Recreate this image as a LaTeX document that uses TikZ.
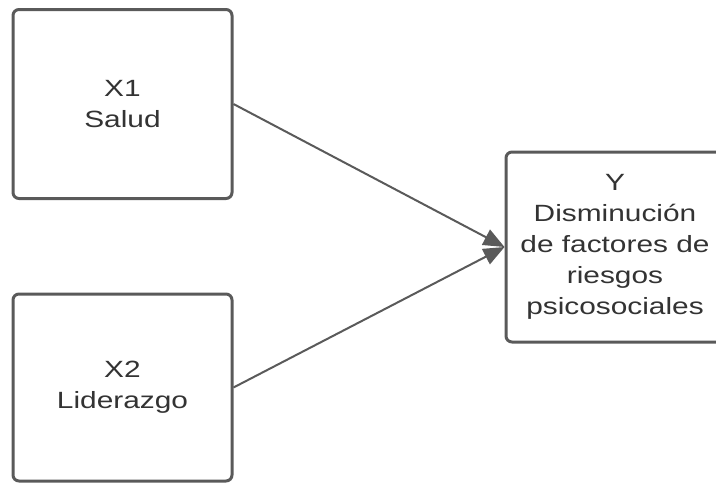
\documentclass[tikz,border=0pt]{standalone}
\usepackage{fontspec}
\newfontfamily\diagfont[FakeStretch=1.27]{Liberation Sans}
\usetikzlibrary{arrows.meta}
\definecolor{edge}{HTML}{5A5A5A}
\definecolor{txt}{HTML}{333333}
\tikzset{
  varbox/.style={draw=edge, line width=3pt, rounded corners=6pt, fill=white,
    minimum width=219pt, align=center, text=txt,
    font=\diagfont\fontsize{23.5}{31}\selectfont},
  link/.style={draw=edge, line width=2pt, -{Triangle[length=21pt,width=17pt]}}
}
\begin{document}
\begin{tikzpicture}[x=1pt,y=-1pt]
\useasboundingbox (0,0) rectangle (716,483);
\clip (0,0) rectangle (716,483);
\node[varbox, minimum height=189pt] (x1) at (122.5,104) {X1\\Salud};
\node[varbox, minimum height=187pt] (x2) at (122.5,387.5) {X2\\Liderazgo};
\node[varbox, minimum width=218pt, minimum height=190pt] (y) at (615,247) {Y\\Disminución\\de factores de\\riesgos\\psicosociales};
\draw[link] (x1.east) -- (y.west);
\draw[link] (x2.east) -- (y.west);
\end{tikzpicture}
\end{document}
